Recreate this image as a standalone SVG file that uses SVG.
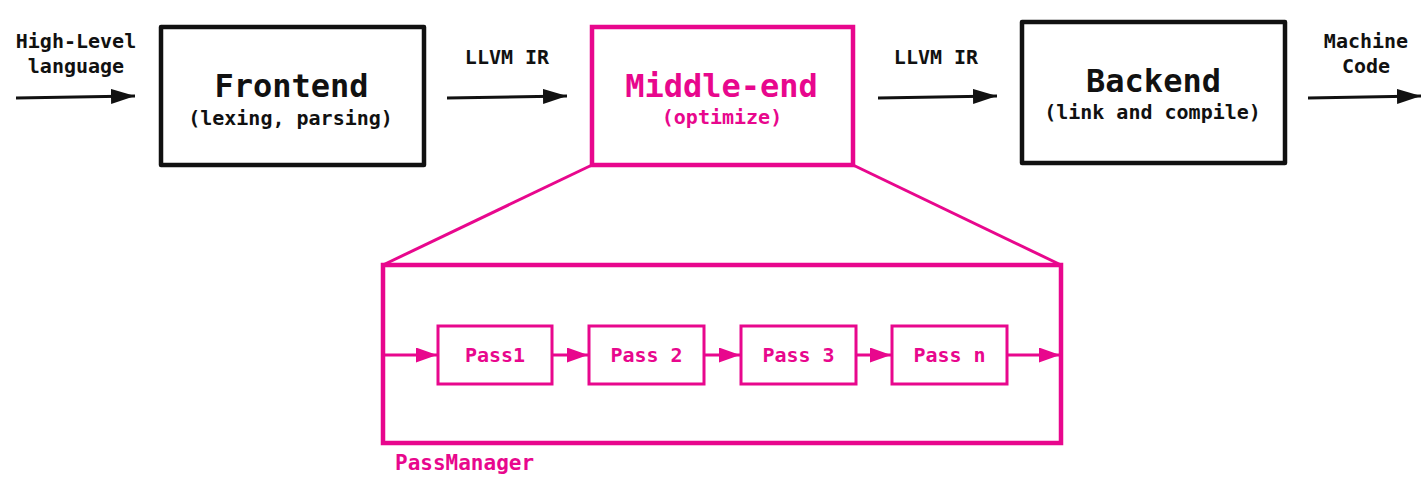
<svg xmlns="http://www.w3.org/2000/svg" width="1421" height="477" viewBox="0 0 1421 477">
<style>
text{font-family:"DejaVu Sans Mono","Liberation Mono",monospace;font-weight:bold;text-anchor:middle}
.k{fill:#111}
.p{fill:#E8078D}
.big{font-size:32px}
.sm{font-size:20px}
.bbox{fill:#fff;stroke:#111;stroke-width:4.5;stroke-linejoin:round}
.pbox{fill:#fff;stroke:#E8078D;stroke-width:4.5}
.pass{fill:#fff;stroke:#E8078D;stroke-width:3}
.ka{stroke:#111;stroke-width:3;fill:none}
.pa{stroke:#E8078D;stroke-width:3;fill:none}
</style>
<defs>
<marker id="ak" markerWidth="8" markerHeight="5" refX="8" refY="2.5" orient="auto" markerUnits="strokeWidth"><path d="M0,0 L8,2.5 L0,5 Z" fill="#111"/></marker>
<marker id="ap" markerWidth="7" markerHeight="5" refX="7" refY="2.5" orient="auto" markerUnits="strokeWidth"><path d="M0,0 L7,2.5 L0,5 Z" fill="#E8078D"/></marker>
</defs>
<g id="connectors">
<line class="ka" x1="16" y1="98" x2="135" y2="96" marker-end="url(#ak)"/>
<line class="ka" x1="447" y1="98" x2="567" y2="96" marker-end="url(#ak)"/>
<line class="ka" x1="878" y1="98" x2="997" y2="96" marker-end="url(#ak)"/>
<line class="ka" x1="1308" y1="98" x2="1421" y2="96" marker-end="url(#ak)"/>
<line class="pa" x1="592" y1="165" x2="383" y2="265" stroke-width="4.5"/>
<line class="pa" x1="853" y1="165" x2="1061" y2="265" stroke-width="4.5"/>
<line class="pa" x1="383" y1="355" x2="437" y2="355" marker-end="url(#ap)"/>
<line class="pa" x1="552" y1="355" x2="588" y2="355" marker-end="url(#ap)"/>
<line class="pa" x1="704" y1="355" x2="740" y2="355" marker-end="url(#ap)"/>
<line class="pa" x1="856" y1="355" x2="891" y2="355" marker-end="url(#ap)"/>
<line class="pa" x1="1007" y1="355" x2="1060" y2="355" marker-end="url(#ap)"/>
</g>
<g id="label-in">
<text class="k sm" x="76" y="48">High-Level</text>
<text class="k sm" x="76" y="73">language</text>
</g>
<g id="label-ir1"><text class="k sm" x="507" y="64">LLVM IR</text></g>
<g id="label-ir2"><text class="k sm" x="936" y="64">LLVM IR</text></g>
<g id="label-out">
<text class="k sm" x="1366" y="48">Machine</text>
<text class="k sm" x="1366" y="73">Code</text>
</g>
<g id="frontend">
<rect class="bbox" x="161" y="27" width="263" height="138"/>
<text class="k big" x="291.5" y="97">Frontend</text>
<text class="k sm" x="290.5" y="125">(lexing, parsing)</text>
</g>
<g id="middleend">
<rect class="pbox" x="592" y="27" width="261" height="138"/>
<text class="p big" x="721.5" y="97">Middle-end</text>
<text class="p sm" x="722" y="124">(optimize)</text>
</g>
<g id="backend">
<rect class="bbox" x="1022" y="22" width="263" height="141"/>
<text class="k big" x="1153.5" y="92">Backend</text>
<text class="k sm" x="1152.5" y="119">(link and compile)</text>
</g>
<g id="passmanager">
<rect x="383" y="265" width="678" height="178" fill="none" stroke="#E8078D" stroke-width="4.5"/>
<text class="p" x="395" y="470" style="text-anchor:start;font-size:21px">PassManager</text>
</g>
<g id="pass1">
<rect class="pass" x="438" y="326" width="114" height="58"/>
<text class="p sm" x="495" y="362">Pass1</text>
</g>
<g id="pass2">
<rect class="pass" x="589" y="326" width="115" height="58"/>
<text class="p sm" x="646.5" y="362">Pass 2</text>
</g>
<g id="pass3">
<rect class="pass" x="741" y="326" width="115" height="58"/>
<text class="p sm" x="798.5" y="362">Pass 3</text>
</g>
<g id="passn">
<rect class="pass" x="892" y="326" width="115" height="58"/>
<text class="p sm" x="949.5" y="362">Pass n</text>
</g>
</svg>
